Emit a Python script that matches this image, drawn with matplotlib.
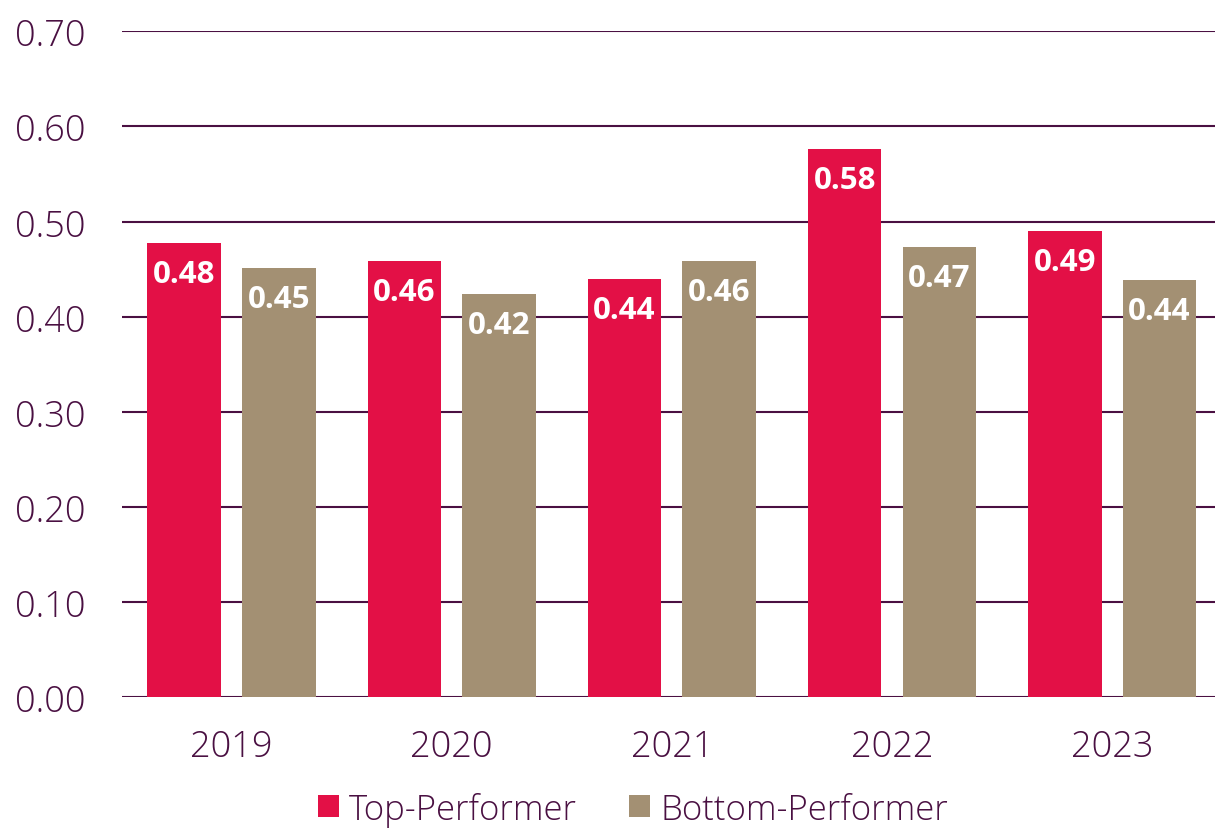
import numpy as np
import matplotlib.pyplot as plt

# Chart values
YEARS = ['2019', '2020', '2021', '2022', '2023']
TOP = [0.477, 0.458, 0.440, 0.576, 0.490]
BOTTOM = [0.451, 0.424, 0.458, 0.473, 0.438]
SERIES_NAMES = ['Top-Performer', 'Bottom-Performer']

RED = '#E31046'
TAN = '#A39073'
PURPLE = '#4A1042'

plt.rcParams['font.family'] = ['Open Sans', 'DejaVu Sans']

fig = plt.figure(figsize=(12.15, 8.29), dpi=100)
ax = fig.add_axes([0.100, 0.158, 0.906, 0.803])

x = np.arange(len(YEARS))
width = 0.334
offset = 0.215

bars_top = ax.bar(x - offset, TOP, width, color=RED, label=SERIES_NAMES[0], zorder=3)
bars_bot = ax.bar(x + offset, BOTTOM, width, color=TAN, label=SERIES_NAMES[1], zorder=3)

# value labels inside the top of each bar
for bars in (bars_top, bars_bot):
    for b in bars:
        h = b.get_height()
        ax.annotate('%.2f' % h, (b.get_x() + b.get_width() / 2, h),
                    xytext=(0, -31), textcoords='offset pixels',
                    ha='center', va='center', color='white',
                    fontsize=22.5, fontweight='bold', zorder=4)

ax.set_xlim(-0.5, 4.5)
ax.set_ylim(0, 0.70)
ax.set_yticks(np.arange(0, 0.71, 0.1))
ax.set_yticklabels(['%.2f' % v for v in np.arange(0, 0.71, 0.1)])
ax.set_xticks(x)
ax.set_xticklabels(YEARS)

ax.yaxis.grid(True, color=PURPLE, linewidth=1.5, zorder=0)
ax.set_axisbelow(True)
for s in ax.spines.values():
    s.set_visible(False)
ax.tick_params(axis='both', length=0, colors=PURPLE)
ax.tick_params(axis='y', pad=26, labelsize=26)
ax.tick_params(axis='x', pad=22, labelsize=26)
for lbl in ax.get_xticklabels() + ax.get_yticklabels():
    lbl.set_fontweight('light')

leg = fig.legend(loc='lower center', bbox_to_anchor=(0.521, -0.036), ncol=2,
                 frameon=False, prop={'size': 25, 'weight': 'light'},
                 handlelength=0.6, handleheight=0.6,
                 handletextpad=0.3, columnspacing=1.5)
for t in leg.get_texts():
    t.set_color(PURPLE)

fig.savefig('out.png', dpi=100)
